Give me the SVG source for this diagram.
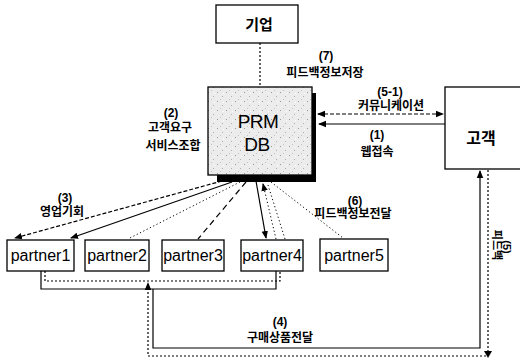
<svg xmlns="http://www.w3.org/2000/svg" width="520" height="363" viewBox="0 0 520 363">
<defs>
<style>
.box{fill:#fff;stroke:#000;stroke-width:1.3}
.lbl{font-family:"Liberation Sans","Noto Sans CJK KR",sans-serif;font-size:12px;font-weight:bold;text-anchor:middle;fill:#000}
.kr{font-family:"Noto Sans CJK KR",sans-serif;font-size:15px;font-weight:bold;text-anchor:middle;fill:#000}
.ptxt{font-family:"Liberation Sans",Arial,sans-serif;font-size:16px;text-anchor:middle;fill:#000}
.big{font-family:"Liberation Sans",Arial,sans-serif;font-size:19px;text-anchor:middle;fill:#000;letter-spacing:-0.5px}
.ln{fill:none;stroke:#000;stroke-width:1.2}
.dot{stroke-dasharray:2 2}
.fdot{stroke-dasharray:1.2 2.5;stroke-width:1}
.dash{stroke-dasharray:6 4}
.sdash{stroke-dasharray:4 2}
</style>
<marker id="ah" markerWidth="8" markerHeight="8" refX="7" refY="4" orient="auto-start-reverse" markerUnits="userSpaceOnUse"><path d="M0,0.8 L8,4 L0,7.2 z" fill="#000"/></marker>
<pattern id="speck" width="9" height="9" patternUnits="userSpaceOnUse"><rect width="9" height="9" fill="#ececec"/><rect x="1" y="2" width="1" height="1" fill="#9a9a9a"/><rect x="6" y="6" width="1" height="1" fill="#b0b0b0"/><rect x="4" y="0" width="1" height="1" fill="#c4c4c4"/><rect x="7" y="3" width="1" height="1" fill="#ffffff"/></pattern>
</defs>
<rect width="520" height="363" fill="#fff"/>

<g id="connectors">
  <path class="ln dot" d="M260,43 V87"/>
  <path class="ln sdash" d="M318,114 H443" marker-start="url(#ah)" marker-end="url(#ah)"/>
  <path class="ln" d="M445,124 H319" marker-end="url(#ah)"/>
  <path class="ln sdash" d="M222,181 L15,238" marker-end="url(#ah)"/>
  <path class="ln" d="M232,182 L71,238" marker-end="url(#ah)"/>
  <path class="ln fdot" d="M240,182 L128,239"/>
  <path class="ln dash" d="M246,182 L198,239"/>
  <path class="ln" d="M256,181 L266,238" marker-end="url(#ah)"/>
  <path class="ln fdot" d="M276,239 L263,184" marker-end="url(#ah)"/>
  <path class="ln fdot" d="M285,239 L268,185"/>
  <path class="ln fdot" d="M271,182 L343,238"/>
  <path class="ln" d="M41,271 V289 H276 V271"/>
  <path class="ln dot" d="M45,271 V281 H280 V271"/>
  <path class="ln" d="M153,289 V348 H480 V171" marker-end="url(#ah)"/>
  <path class="ln dot" d="M488,170 V356 H148 V283" marker-end="url(#ah)"/>
  <path d="M484,351 L492,351 L488,358 z" fill="#000"/>
  <text class="lbl" x="326" y="60">(7)</text>
  <text class="lbl" x="325" y="77">피드백정보저장</text>
  <text class="lbl" x="390" y="96">(5-1)</text>
  <text class="lbl" x="391" y="110">커뮤니케이션</text>
  <text class="lbl" x="377" y="139">(1)</text>
  <text class="lbl" x="377" y="156">웹접속</text>
  <text class="lbl" x="171" y="117">(2)</text>
  <text class="lbl" x="170" y="132">고객요구</text>
  <text class="lbl" x="173" y="150">서비스조합</text>
  <text class="lbl" x="65" y="202">(3)</text>
  <text class="lbl" x="62" y="216">영업기회</text>
  <text class="lbl" x="355" y="205">(6)</text>
  <text class="lbl" x="353" y="218">피드백정보전달</text>
  <text class="lbl" x="280" y="326">(4)</text>
  <text class="lbl" x="280" y="342">구매상품전달</text>
  <text class="lbl" transform="translate(507,247) rotate(90)" dy="0.35em" style="font-size:11px">(5)</text>
  <text class="lbl" transform="translate(497,245) rotate(90)" dy="0.35em" style="font-size:11px">피드백</text>
</g>

<g id="n-giup">
  <rect class="box" x="216" y="5" width="82" height="38"/>
  <text class="kr" x="259" y="30">기업</text>
</g>

<g id="n-prm">
  <rect x="217" y="93" width="99" height="89" fill="#000"/>
  <rect x="208" y="87" width="104" height="88" fill="url(#speck)" stroke="#000" stroke-width="1.3"/>
  <text class="big" x="258" y="128">PRM</text>
  <text class="big" x="257" y="151">DB</text>
</g>

<g id="n-gogaek">
  <rect class="box" x="445" y="87" width="80" height="82"/>
  <text class="kr" x="481" y="144" style="font-size:16px">고객</text>
</g>

<g id="n-partner1">
  <rect class="box" x="7" y="240" width="67" height="31"/>
  <text class="ptxt" x="40.5" y="261">partner1</text>
</g>
<g id="n-partner2">
  <rect class="box" x="85" y="240" width="64" height="31"/>
  <text class="ptxt" x="117" y="261">partner2</text>
</g>
<g id="n-partner3">
  <rect class="box" x="162" y="240" width="62" height="31"/>
  <text class="ptxt" x="193" y="261">partner3</text>
</g>
<g id="n-partner4">
  <rect class="box" x="241" y="240" width="62" height="31"/>
  <text class="ptxt" x="272" y="261">partner4</text>
</g>
<g id="n-partner5">
  <rect class="box" x="320" y="239" width="68" height="32"/>
  <text class="ptxt" x="354" y="261">partner5</text>
</g>
</svg>
